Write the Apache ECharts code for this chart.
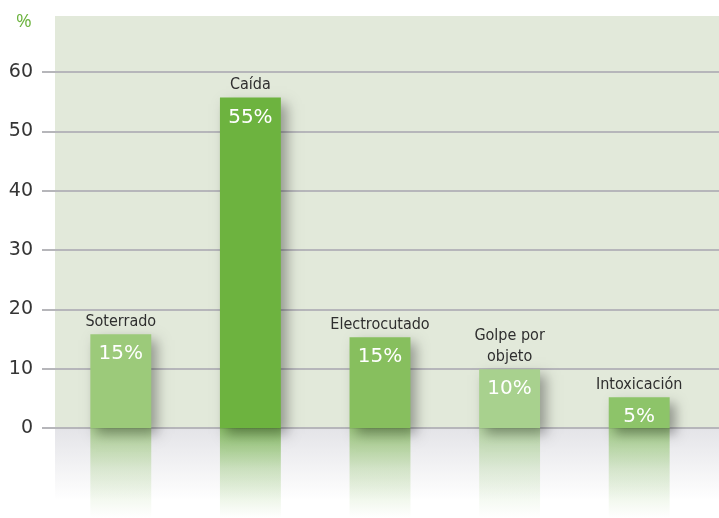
<!DOCTYPE html>
<html>
<head>
<meta charset="utf-8">
<script src="https://cdn.jsdelivr.net/npm/echarts@6/dist/echarts.min.js"></script>
<style>html,body{margin:0;padding:0;background:#fff;}#c{width:719px;height:518px;}</style>
</head>
<body>
<div id="c"></div>
<script>
const categories = ['Soterrado', 'Caída', 'Electrocutado', 'Golpe por\nobjeto', 'Intoxicación'];
const values = [15.8, 55.7, 15.3, 9.9, 5.2];
const valueLabels = ['15%', '55%', '15%', '10%', '5%'];
const barColors = ['#9cca7a', '#6db33f', '#87bf5e', '#a8d18e', '#8dc469'];
const yTicks = [0, 10, 20, 30, 40, 50, 60];

const chart = echarts.init(document.getElementById('c'), null, {renderer: 'canvas'});
const gridColor = '#b6b6ba';
const option = {
  backgroundColor: '#ffffff',
  animation: false,
  graphic: [
    {type: 'rect', shape: {x: 55, y: 16, width: 664, height: 412}, style: {fill: '#e2e9da'}, z: -10},
    {type: 'rect', shape: {x: 55, y: 429, width: 664, height: 89},
      style: {fill: new echarts.graphic.LinearGradient(0, 0, 0, 1, [
        {offset: 0, color: '#e4e4e8'}, {offset: 0.8, color: '#ffffff'}, {offset: 1, color: '#ffffff'}])}, z: -10},
    {type: 'text', left: 16, top: 12, z: 10,
      style: {text: '%', fill: '#6db33f', font: 'normal 19px "Open Sans", sans-serif'}}
  ],
  grid: {left: 56, right: 15, top: 72, bottom: 90},
  xAxis: {
    type: 'category', data: categories,
    axisLine: {show: false}, axisTick: {show: false}, axisLabel: {show: false}
  },
  yAxis: [{
    type: 'value', min: yTicks[0], max: yTicks[yTicks.length - 1], interval: 10,
    axisLine: {show: false},
    axisTick: {show: true, length: 14, lineStyle: {color: gridColor, width: 2}},
    axisLabel: {margin: 23, color: '#353535', fontSize: 19, fontFamily: 'DejaVu Sans'},
    splitLine: {lineStyle: {color: gridColor, width: 2}}
  }, {
    type: 'value', position: 'right', min: yTicks[0], max: yTicks[yTicks.length - 1], interval: 10,
    axisLine: {show: false},
    axisTick: {show: true, length: 15, lineStyle: {color: gridColor, width: 2}},
    axisLabel: {show: false}, splitLine: {show: false}
  }],
  series: [
    {
      type: 'custom', z: 1, silent: true,
      renderItem: function (params, api) {
        const idx = api.value(0);
        const p = api.coord([idx, 0]);
        const w = api.size([1, 0])[0] * 0.47;
        const c = barColors[idx];
        return {
          type: 'rect',
          shape: {x: p[0] - w / 2, y: p[1], width: w, height: 90},
          style: {fill: new echarts.graphic.LinearGradient(0, 0, 0, 1, [
            {offset: 0, color: echarts.color.modifyAlpha(c, 0.75)},
            {offset: 0.45, color: echarts.color.modifyAlpha(c, 0.3)},
            {offset: 1, color: echarts.color.modifyAlpha(c, 0)}])}
        };
      },
      data: categories.map((c, i) => [i])
    },
    {
      type: 'bar', z: 3, barWidth: '47%',
      data: values.map((v, i) => ({value: v, itemStyle: {color: barColors[i]}})),
      itemStyle: {shadowColor: 'rgba(0,0,0,0.35)', shadowBlur: 12, shadowOffsetX: 6, shadowOffsetY: 6},
      label: {
        show: true, position: 'insideTop', distance: 10,
        formatter: p => valueLabels[p.dataIndex],
        color: '#ffffff', fontSize: 20, fontFamily: 'DejaVu Sans', fontWeight: 'normal'
      }
    },
    {
      type: 'bar', z: 4, barWidth: '47%', barGap: '-100%', silent: true,
      data: values,
      itemStyle: {color: 'rgba(0,0,0,0)'},
      label: {
        show: true, position: 'top', distance: 2,
        formatter: p => categories[p.dataIndex],
        color: '#2e2e2e', fontSize: 16, lineHeight: 21,
        fontFamily: 'DejaVu Sans Condensed'
      }
    }
  ]
};
chart.setOption(option);
</script>
</body>
</html>
